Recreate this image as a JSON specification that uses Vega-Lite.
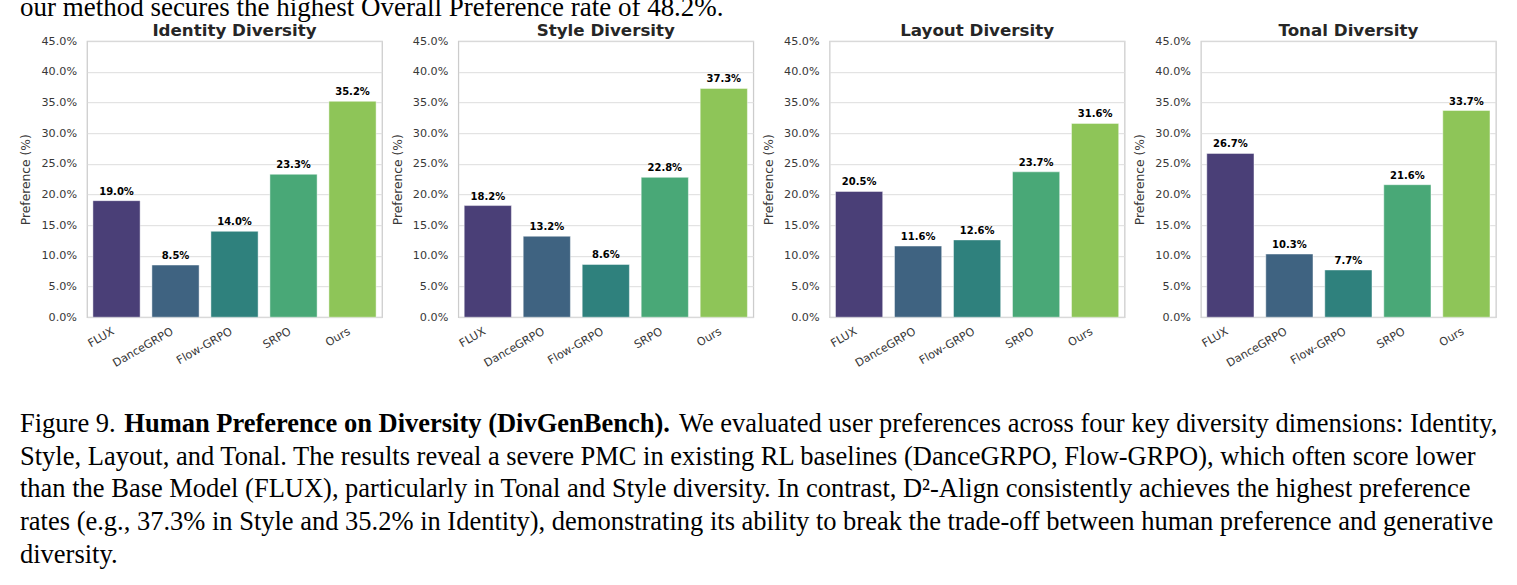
{
  "$schema": "https://vega.github.io/schema/vega-lite/v6.json",
  "background": "white",
  "padding": {"left": 19, "top": -9.3, "right": 0, "bottom": 0},
  "config": {
    "font": "DejaVu Sans",
    "view": {"stroke": "#cccccc", "strokeWidth": 1.25},
    "title": {"font": "DejaVu Sans", "fontSize": 16.7, "fontWeight": "bold", "color": "#262626", "anchor": "middle", "frame": "group"},
    "axisY": {
      "values": [0, 5, 10, 15, 20, 25, 30, 35, 40, 45],
      "labelExpr": "format(datum.value, '.1f') + '%'",
      "grid": true, "gridColor": "#dddddd", "gridWidth": 1,
      "domain": false, "ticks": false,
      "labelPadding": 10.5, "labelFontSize": 11.2, "labelColor": "#383838", "labelFont": "DejaVu Sans",
      "titleFont": "DejaVu Sans", "titleFontSize": 12.3, "titleFontWeight": "normal", "titleColor": "#383838", "titlePadding": 8
    },
    "axisX": {
      "domain": false, "ticks": false, "grid": false,
      "labelAngle": -30, "labelAlign": "right", "labelBaseline": "top", "labelPadding": 8, "labelOffset": -6,
      "labelFontSize": 11.2, "labelColor": "#383838", "labelFont": "DejaVu Sans", "title": null
    }
  },
  "datasets": {
    "identity": [
      {"model": "FLUX", "pref": 19.0}, {"model": "DanceGRPO", "pref": 8.5}, {"model": "Flow-GRPO", "pref": 14.0}, {"model": "SRPO", "pref": 23.3}, {"model": "Ours", "pref": 35.2}
    ],
    "style": [
      {"model": "FLUX", "pref": 18.2}, {"model": "DanceGRPO", "pref": 13.2}, {"model": "Flow-GRPO", "pref": 8.6}, {"model": "SRPO", "pref": 22.8}, {"model": "Ours", "pref": 37.3}
    ],
    "layout": [
      {"model": "FLUX", "pref": 20.5}, {"model": "DanceGRPO", "pref": 11.6}, {"model": "Flow-GRPO", "pref": 12.6}, {"model": "SRPO", "pref": 23.7}, {"model": "Ours", "pref": 31.6}
    ],
    "tonal": [
      {"model": "FLUX", "pref": 26.7}, {"model": "DanceGRPO", "pref": 10.3}, {"model": "Flow-GRPO", "pref": 7.7}, {"model": "SRPO", "pref": 21.6}, {"model": "Ours", "pref": 33.7}
    ],
    "header": [
      {"text": "our method secures the highest Overall Preference rate of 48.2%."}
    ],
    "caption": [
      {"line": 1, "seg": "lead", "text": "Figure 9."},
      {"line": 1, "seg": "bold", "text": "Human Preference on Diversity (DivGenBench)."},
      {"line": 1, "seg": "rest", "text": "We evaluated user preferences across four key diversity dimensions: Identity,"},
      {"line": 2, "seg": "lead", "text": "Style, Layout, and Tonal. The results reveal a severe PMC in existing RL baselines (DanceGRPO, Flow-GRPO), which often score lower"},
      {"line": 3, "seg": "lead", "text": "than the Base Model (FLUX), particularly in Tonal and Style diversity. In contrast, D²-Align consistently achieves the highest preference"},
      {"line": 4, "seg": "lead", "text": "rates (e.g., 37.3% in Style and 35.2% in Identity), demonstrating its ability to break the trade-off between human preference and generative"},
      {"line": 5, "seg": "lead", "text": "diversity."}
    ]
  },
  "spacing": -1.5,
  "vconcat": [
    {
      "width": 1420, "height": 30,
      "view": {"stroke": "transparent"},
      "data": {"name": "header"},
      "mark": {"type": "text", "font": "Liberation Serif", "fontSize": 27, "align": "left", "baseline": "alphabetic", "color": "#000000", "dx": -67},
      "encoding": {
        "x": {"datum": 0, "type": "quantitative", "scale": {"domain": [0, 1], "zero": false, "nice": false}, "axis": null},
        "y": {"datum": 0, "type": "quantitative", "scale": {"domain": [-0.25, 1], "zero": false, "nice": false}, "axis": null},
        "text": {"field": "text"}
      }
    },
    {
      "bounds": "flush",
      "spacing": 76.3,
      "hconcat": [
        {
          "width": 295, "height": 276,
          "title": {"text": "Identity Diversity", "dy": 8.3},
          "data": {"name": "identity"},
          "transform": [{"calculate": "format(datum.pref, '.1f') + '%'", "as": "label"}],
          "encoding": {
            "x": {"field": "model", "type": "nominal", "sort": ["FLUX", "DanceGRPO", "Flow-GRPO", "SRPO", "Ours"], "scale": {"paddingInner": 0.2, "paddingOuter": 0.1}},
            "y": {"field": "pref", "type": "quantitative", "scale": {"domain": [0, 45], "nice": false}, "title": "Preference (%)"}
          },
          "layer": [
            {
              "mark": {"type": "bar", "stroke": "#ffffff", "strokeWidth": 1, "strokeOpacity": 0.45},
              "encoding": {"color": {"field": "model", "type": "nominal", "legend": null, "scale": {"domain": ["FLUX", "DanceGRPO", "Flow-GRPO", "SRPO", "Ours"], "range": ["#4a3f77", "#3f6381", "#2f817d", "#49a877", "#8ec558"]}}}
            },
            {
              "mark": {"type": "text", "fontSize": 10, "fontWeight": "bold", "color": "#000000", "baseline": "alphabetic", "dy": -6},
              "encoding": {"text": {"field": "label"}}
            }
          ]
        },
        {
          "width": 295, "height": 276,
          "title": {"text": "Style Diversity", "dy": 8.3},
          "data": {"name": "style"},
          "transform": [{"calculate": "format(datum.pref, '.1f') + '%'", "as": "label"}],
          "encoding": {
            "x": {"field": "model", "type": "nominal", "sort": ["FLUX", "DanceGRPO", "Flow-GRPO", "SRPO", "Ours"], "scale": {"paddingInner": 0.2, "paddingOuter": 0.1}},
            "y": {"field": "pref", "type": "quantitative", "scale": {"domain": [0, 45], "nice": false}, "title": "Preference (%)"}
          },
          "layer": [
            {
              "mark": {"type": "bar", "stroke": "#ffffff", "strokeWidth": 1, "strokeOpacity": 0.45},
              "encoding": {"color": {"field": "model", "type": "nominal", "legend": null, "scale": {"domain": ["FLUX", "DanceGRPO", "Flow-GRPO", "SRPO", "Ours"], "range": ["#4a3f77", "#3f6381", "#2f817d", "#49a877", "#8ec558"]}}}
            },
            {
              "mark": {"type": "text", "fontSize": 10, "fontWeight": "bold", "color": "#000000", "baseline": "alphabetic", "dy": -6},
              "encoding": {"text": {"field": "label"}}
            }
          ]
        },
        {
          "width": 295, "height": 276,
          "title": {"text": "Layout Diversity", "dy": 8.3},
          "data": {"name": "layout"},
          "transform": [{"calculate": "format(datum.pref, '.1f') + '%'", "as": "label"}],
          "encoding": {
            "x": {"field": "model", "type": "nominal", "sort": ["FLUX", "DanceGRPO", "Flow-GRPO", "SRPO", "Ours"], "scale": {"paddingInner": 0.2, "paddingOuter": 0.1}},
            "y": {"field": "pref", "type": "quantitative", "scale": {"domain": [0, 45], "nice": false}, "title": "Preference (%)"}
          },
          "layer": [
            {
              "mark": {"type": "bar", "stroke": "#ffffff", "strokeWidth": 1, "strokeOpacity": 0.45},
              "encoding": {"color": {"field": "model", "type": "nominal", "legend": null, "scale": {"domain": ["FLUX", "DanceGRPO", "Flow-GRPO", "SRPO", "Ours"], "range": ["#4a3f77", "#3f6381", "#2f817d", "#49a877", "#8ec558"]}}}
            },
            {
              "mark": {"type": "text", "fontSize": 10, "fontWeight": "bold", "color": "#000000", "baseline": "alphabetic", "dy": -6},
              "encoding": {"text": {"field": "label"}}
            }
          ]
        },
        {
          "width": 295, "height": 276,
          "title": {"text": "Tonal Diversity", "dy": 8.3},
          "data": {"name": "tonal"},
          "transform": [{"calculate": "format(datum.pref, '.1f') + '%'", "as": "label"}],
          "encoding": {
            "x": {"field": "model", "type": "nominal", "sort": ["FLUX", "DanceGRPO", "Flow-GRPO", "SRPO", "Ours"], "scale": {"paddingInner": 0.2, "paddingOuter": 0.1}},
            "y": {"field": "pref", "type": "quantitative", "scale": {"domain": [0, 45], "nice": false}, "title": "Preference (%)"}
          },
          "layer": [
            {
              "mark": {"type": "bar", "stroke": "#ffffff", "strokeWidth": 1, "strokeOpacity": 0.45},
              "encoding": {"color": {"field": "model", "type": "nominal", "legend": null, "scale": {"domain": ["FLUX", "DanceGRPO", "Flow-GRPO", "SRPO", "Ours"], "range": ["#4a3f77", "#3f6381", "#2f817d", "#49a877", "#8ec558"]}}}
            },
            {
              "mark": {"type": "text", "fontSize": 10, "fontWeight": "bold", "color": "#000000", "baseline": "alphabetic", "dy": -6},
              "encoding": {"text": {"field": "label"}}
            }
          ]
        }
      ]
    },
    {
      "width": 1420, "height": 200,
      "view": {"stroke": "transparent"},
      "data": {"name": "caption"},
      "encoding": {
        "x": {"datum": 0, "type": "quantitative", "scale": {"domain": [0, 1], "zero": false, "nice": false}, "axis": null},
        "y": {"field": "line", "type": "quantitative", "scale": {"domain": [-0.881, 5.226], "reverse": true, "zero": false, "nice": false}, "axis": null},
        "text": {"field": "text"}
      },
      "layer": [
        {
          "transform": [{"filter": "datum.seg === 'lead'"}],
          "mark": {"type": "text", "font": "Liberation Serif", "fontSize": 26.5, "align": "left", "baseline": "alphabetic", "color": "#000000", "dx": -67}
        },
        {
          "transform": [{"filter": "datum.seg === 'bold'"}],
          "mark": {"type": "text", "font": "Liberation Serif", "fontSize": 26.5, "fontWeight": "bold", "align": "left", "baseline": "alphabetic", "color": "#000000", "dx": 37.3}
        },
        {
          "transform": [{"filter": "datum.seg === 'rest'"}],
          "mark": {"type": "text", "font": "Liberation Serif", "fontSize": 26.5, "align": "left", "baseline": "alphabetic", "color": "#000000", "dx": 592}
        }
      ]
    }
  ]
}
